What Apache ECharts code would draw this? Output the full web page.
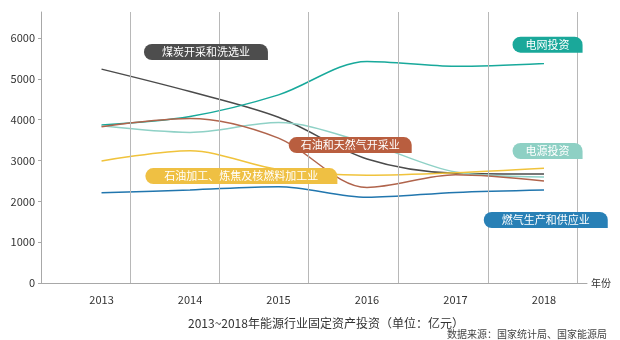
<!DOCTYPE html>
<html>
<head>
<meta charset="utf-8">
<script src="https://cdn.jsdelivr.net/npm/echarts@6/dist/echarts.min.js"></script>
<style>
  html, body { margin: 0; padding: 0; background: #fff; }
  #chart { width: 620px; height: 340px; }
</style>
</head>
<body>
<div id="chart"></div>
<script>
// Energy-sector fixed-asset investment, 2013–2018 (unit: 100 million yuan)
const years = ['2013', '2014', '2015', '2016', '2017', '2018'];
const yTicks = [0, 1000, 2000, 3000, 4000, 5000, 6000];

const coalMining   = [5240, 4690, 4060, 3040, 2690, 2670];
const gridInvest   = [3870, 4080, 4610, 5430, 5310, 5380];
const powerInvest  = [3850, 3690, 3930, 3430, 2720, 2600];
const oilGasMining = [3830, 4030, 3550, 2340, 2650, 2500];
const refining     = [2990, 3240, 2780, 2640, 2700, 2810];
const gasSupply    = [2210, 2280, 2360, 2100, 2220, 2280];

// divider lines between year columns (x-axis units, year index)
const dividers = [0.32, 1.33, 2.34, 3.35, 4.37, 5.38];

const FONT = '"Noto Sans CJK SC", "Noto Sans", sans-serif';

// series: name, data, line colour, tag colour, tag anchor (axis units), tag side padding
const lines = [
  { name: '煤炭开采和洗选业', data: coalMining, color: '#4b4b4b', tagBg: '#4d4d4d', tag: [1.18, 5660], pad: 18 },
  { name: '电网投资', data: gridInvest, color: '#18a99b', tagBg: '#1aa89a', tag: [5.04, 5840], pad: 13 },
  { name: '电源投资', data: powerInvest, color: '#8fd1c6', tagBg: '#8ed0c4', tag: [5.04, 3234], pad: 13 },
  { name: '石油和天然气开采业', data: oilGasMining, color: '#b0644c', tagBg: '#b95e3f', tag: [2.81, 3380], pad: 12 },
  { name: '石油加工、炼焦及核燃料加工业', data: refining, color: '#f0c33c', tagBg: '#efc043', tag: [1.58, 2620], pad: 19 },
  { name: '燃气生产和供应业', data: gasSupply, color: '#2176ae', tagBg: '#2880b6', tag: [5.02, 1543], pad: 18 }
];

const series = lines.map(function (s) {
  return {
    name: s.name,
    type: 'line',
    smooth: 0.32,
    showSymbol: false,
    symbol: 'none',
    data: s.data.map(function (v, i) { return [i, v]; }),
    lineStyle: { color: s.color, width: 1.5 },
    itemStyle: { color: s.color },
    z: 3,
    markPoint: {
      silent: true,
      symbol: 'circle',
      symbolSize: 0,
      z: 10,
      data: [{
        coord: s.tag,
        label: {
          show: true,
          position: 'inside',
          formatter: s.name,
          color: '#fff',
          fontFamily: FONT,
          fontSize: 11,
          lineHeight: 12,
          backgroundColor: s.tagBg,
          borderRadius: [8, 8, 0, 8],
          padding: [2, s.pad, 2, s.pad]
        }
      }]
    }
  };
});

// vertical column dividers
series.push({
  type: 'line',
  data: [],
  silent: true,
  z: 1,
  markLine: {
    silent: true,
    symbol: ['none', 'none'],
    label: { show: false },
    lineStyle: { type: 'solid', color: '#b8b8b8', width: 1 },
    data: dividers.map(function (d) { return { xAxis: d }; })
  }
});

const chart = echarts.init(document.getElementById('chart'), null, { renderer: 'canvas' });
chart.setOption({
  animation: false,
  backgroundColor: '#ffffff',
  textStyle: { fontFamily: FONT },
  title: [
    {
      text: '2013~2018年能源行业固定资产投资（单位：亿元）',
      left: 183, top: 312,
      textStyle: { fontFamily: FONT, fontSize: 12, fontWeight: 'normal', color: '#333' }
    },
    {
      text: '数据来源：国家统计局、国家能源局',
      right: 8, top: 324,
      textStyle: { fontFamily: FONT, fontSize: 10, fontWeight: 'normal', color: '#444' }
    }
  ],
  grid: { left: 41, right: 33, top: 12, bottom: 57, containLabel: false },
  xAxis: {
    type: 'value',
    min: -0.684,
    max: 5.486,
    name: '年份',
    nameLocation: 'end',
    nameGap: 4,
    nameTextStyle: { fontFamily: FONT, fontSize: 10, color: '#333' },
    axisLine: { show: true, onZero: false, lineStyle: { color: '#a8a8a8', width: 1 } },
    axisTick: { show: false },
    splitLine: { show: false },
    axisLabel: {
      customValues: years.map(function (_, i) { return i; }),
      formatter: function (v) { return years[Math.round(v)]; },
      color: '#333',
      fontSize: 11,
      fontFamily: FONT,
      margin: 11
    }
  },
  yAxis: {
    type: 'value',
    min: 0,
    max: 6640,
    interval: 1000,
    axisLine: { show: true, onZero: false, lineStyle: { color: '#a8a8a8', width: 1 } },
    axisTick: { show: true, length: 3, customValues: yTicks, lineStyle: { color: '#a8a8a8' } },
    splitLine: { show: false },
    axisLabel: {
      customValues: yTicks,
      formatter: function (v) { return String(v); },
      color: '#333',
      fontSize: 11,
      fontFamily: FONT,
      margin: 6
    }
  },
  series: series
});
</script>
</body>
</html>
